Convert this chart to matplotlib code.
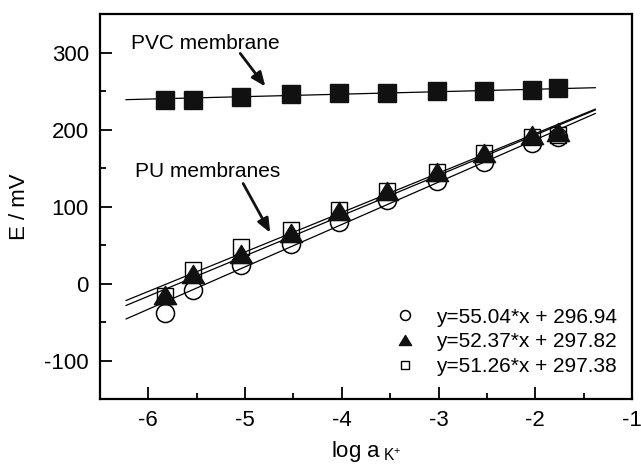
import matplotlib
matplotlib.use("Agg")
import matplotlib.pyplot as plt
import numpy as np
from matplotlib.path import Path

plt.rcParams['font.family'] = ['Liberation Sans', 'DejaVu Sans']
plt.rcParams['mathtext.fontset'] = 'custom'
plt.rcParams['mathtext.rm'] = 'Liberation Sans'
plt.rcParams['mathtext.it'] = 'Liberation Sans'

# ---- data ----
log_a = [-5.83, -5.54, -5.04, -4.53, -4.03, -3.53, -3.02, -2.53, -2.03, -1.77]
pvc_E = [239, 239, 243, 246, 248, 247, 250, 250, 252, 254]
pu1_E = [-38, -9, 24, 51, 80, 108, 133, 158, 182, 190]     # open circles
pu2_E = [-15, 12, 38, 66, 94, 120, 145, 170, 193, 197]     # filled triangles
pu3_E = [-16, 17, 47, 70, 96, 120, 145, 169, 190, 193]     # open squares

pvc_fit = (3.2, 258.9)
pu_slopes = [55.04, 52.37, 51.26]
pu_intercepts = [296.94, 297.82, 297.38]
pu_labels = ['y=55.04*x + 296.94', 'y=52.37*x + 297.82', 'y=51.26*x + 297.38']
fit_range = (-6.23, -1.38)

xticks = [-6, -5, -4, -3, -2, -1]
yticks = [-100, 0, 100, 200, 300]

fig = plt.figure(figsize=(6.41, 4.67), dpi=100)
ax = fig.add_axes([0.156, 0.1456, 0.830, 0.824])

xf = np.array(fit_range)
ax.plot(xf, pvc_fit[0] * xf + pvc_fit[1], color='black', lw=0.9, zorder=2)
for s, b in zip(pu_slopes, pu_intercepts):
    ax.plot(xf, s * xf + b, color='black', lw=0.9, zorder=2)

tri = Path([(-1, -0.82), (1, -0.82), (0, 0.82), (-1, -0.82)],
           [Path.MOVETO, Path.LINETO, Path.LINETO, Path.CLOSEPOLY])

ax.plot(log_a, pvc_E, 's', ms=12.5, color='#111111', mec='#111111', zorder=3)
h1, = ax.plot(log_a, pu1_E, 'o', ms=13, mfc='none', mec='black', mew=1.1,
              zorder=3, label=pu_labels[0])
h3, = ax.plot(log_a, pu3_E, 's', ms=11.5, mfc='none', mec='black', mew=1.0,
              zorder=4, label=pu_labels[2])
h2, = ax.plot(log_a, pu2_E, marker=tri, ls='none', ms=16, color='#111111',
              zorder=5, label=pu_labels[1])

ax.set_xlim(-6.5, -1)
ax.set_ylim(-150, 350)
ax.set_xticks(xticks)
ax.set_xticklabels([str(t) for t in xticks])
ax.set_xticks(np.arange(-6.5, -1.0, 1.0), minor=True)
ax.set_yticks(yticks)
ax.set_yticklabels([str(t) for t in yticks])
ax.set_yticks([-50, 50, 150, 250], minor=True)

ax.tick_params(which='major', direction='in', length=8.5, width=1.3,
               labelsize=16, pad=8)
ax.tick_params(which='minor', direction='in', length=4.3, width=1.3)
for sp in ax.spines.values():
    sp.set_linewidth(1.6)

ax.set_ylabel('E / mV', fontsize=16, labelpad=10)
ax.set_xlabel(r'log a$_{\;\mathregular{K^{+}}}$', fontsize=16, labelpad=6)

ax.annotate('', xy=(-4.79, 256), xytext=(-5.05, 299),
            arrowprops=dict(arrowstyle='-|>,head_length=0.6,head_width=0.25',
                            lw=2, color='#111111',
                            mutation_scale=14, shrinkA=0, shrinkB=0))
ax.text(-6.18, 312, 'PVC membrane', fontsize=15, va='center', ha='left')
ax.annotate('', xy=(-4.74, 66), xytext=(-5.02, 130),
            arrowprops=dict(arrowstyle='-|>,head_length=0.6,head_width=0.25',
                            lw=2, color='#111111',
                            mutation_scale=14, shrinkA=0, shrinkB=0))
ax.text(-6.14, 145, 'PU membranes', fontsize=15, va='center', ha='left')

leg = ax.legend(handles=[h1, h2, h3], loc='lower right', frameon=False,
                fontsize=15, markerscale=0.55, handlelength=1.0,
                handletextpad=1.0, labelspacing=0.27,
                bbox_to_anchor=(1.0, 0.022), borderaxespad=0.3)

fig.savefig('out.png', dpi=100)
